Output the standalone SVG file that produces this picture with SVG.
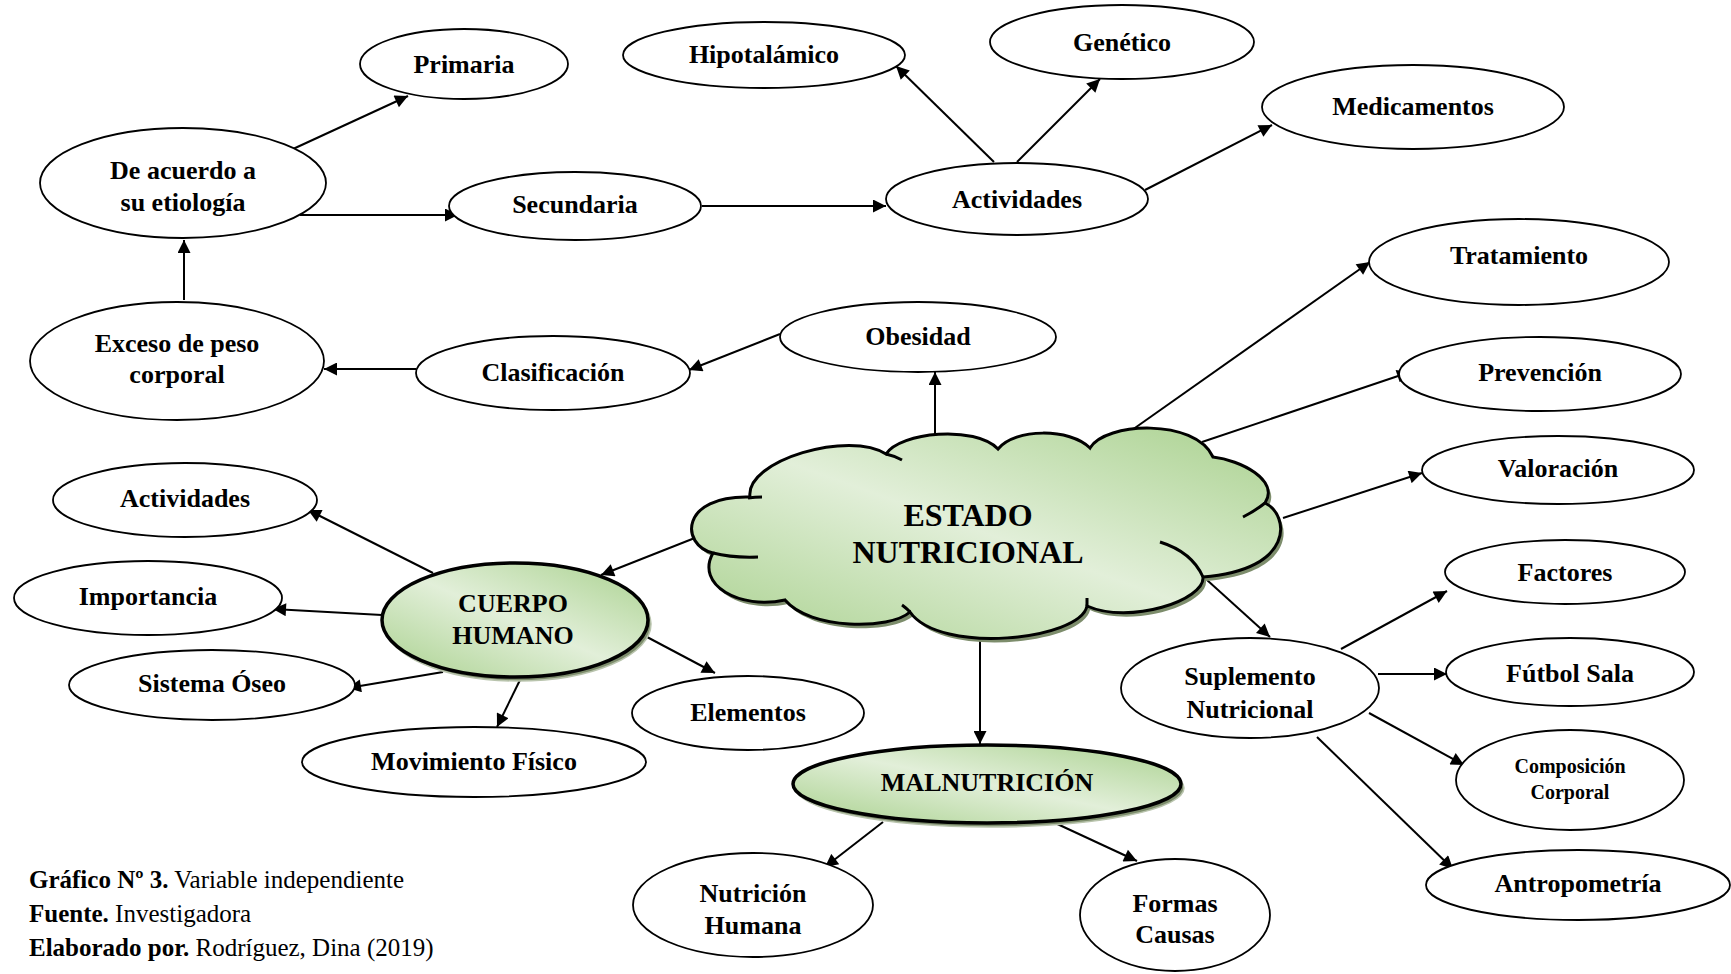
<svg xmlns="http://www.w3.org/2000/svg" xmlns:xlink="http://www.w3.org/1999/xlink" width="1731" height="974" viewBox="0 0 1731 974">
<style>
.n{fill:#fff;stroke:#000;stroke-width:1.8}
.g{stroke:#000;stroke-width:3.5}
.sh{fill:#7d8d6c;stroke:#b9c4ad;stroke-width:1.5}
.t{font-family:"Liberation Serif","Times New Roman",serif;font-weight:bold;font-size:26px;text-anchor:middle;fill:#000}
.c{font-family:"Liberation Serif","Times New Roman",serif;font-size:25px;fill:#000}
.cn path, .cn line{stroke:#000;stroke-width:2;fill:none}
</style>
<defs>
<linearGradient id="gr" x1="1" y1="0" x2="0" y2="1">
<stop offset="0" stop-color="#a9d18e"/>
<stop offset="0.5" stop-color="#e2efd9"/>
<stop offset="1" stop-color="#a9d18e"/>
</linearGradient>
<marker id="ah" viewBox="0 0 10 10" refX="10" refY="5" markerWidth="15" markerHeight="13" markerUnits="userSpaceOnUse" orient="auto">
<path d="M0,0 L10,5 L0,10 z" fill="#000"/>
</marker>
<path id="cloud" d="M750,497 C745,460 850,430 886,454 C900,432 975,425 998,449 C1015,428 1070,428 1090,448 C1105,422 1195,418 1213,457 C1240,460 1280,480 1265,503 C1290,515 1295,570 1203,577 C1205,600 1130,625 1087,606 C1080,640 940,655 910,612 C890,630 810,630 785,600 C740,610 695,585 713,553 C680,545 680,495 750,497 Z"/>
</defs>

<g id="connectors" class="cn">
<line x1="184" y1="300" x2="184" y2="240" marker-end="url(#ah)"/>
<line x1="300" y1="215" x2="458" y2="215" marker-end="url(#ah)"/>
<line x1="293" y1="149" x2="408" y2="96" marker-end="url(#ah)"/>
<line x1="702" y1="206" x2="886" y2="206" marker-end="url(#ah)"/>
<line x1="994" y1="162" x2="896" y2="66" marker-end="url(#ah)"/>
<line x1="1017" y1="162" x2="1100" y2="79" marker-end="url(#ah)"/>
<line x1="1145" y1="190" x2="1272" y2="125" marker-end="url(#ah)"/>
<line x1="416" y1="369" x2="324" y2="369" marker-end="url(#ah)"/>
<line x1="780" y1="334" x2="689" y2="370" marker-end="url(#ah)"/>
<line x1="935" y1="438" x2="935" y2="372" marker-end="url(#ah)"/>
<line x1="1132" y1="430" x2="1370" y2="262" marker-end="url(#ah)"/>
<line x1="1202" y1="442" x2="1410" y2="372" marker-end="url(#ah)"/>
<line x1="1283" y1="518" x2="1422" y2="473" marker-end="url(#ah)"/>
<line x1="1207" y1="580" x2="1270" y2="637" marker-end="url(#ah)"/>
<line x1="1341" y1="649" x2="1447" y2="591" marker-end="url(#ah)"/>
<line x1="1378" y1="674" x2="1447" y2="674" marker-end="url(#ah)"/>
<line x1="1369" y1="713" x2="1464" y2="765" marker-end="url(#ah)"/>
<line x1="1317" y1="737" x2="1453" y2="869" marker-end="url(#ah)"/>
<line x1="980" y1="640" x2="980" y2="744" marker-end="url(#ah)"/>
<line x1="883" y1="822" x2="825" y2="867" marker-end="url(#ah)"/>
<line x1="1053" y1="822" x2="1137" y2="861" marker-end="url(#ah)"/>
<line x1="715" y1="530" x2="601" y2="575" marker-end="url(#ah)"/>
<line x1="433" y1="573" x2="308" y2="510" marker-end="url(#ah)"/>
<line x1="382" y1="615" x2="273" y2="609" marker-end="url(#ah)"/>
<line x1="443" y1="672" x2="348" y2="688" marker-end="url(#ah)"/>
<line x1="520" y1="680" x2="497" y2="727" marker-end="url(#ah)"/>
<line x1="647" y1="637" x2="715" y2="673" marker-end="url(#ah)"/>
</g>

<g id="estado-nutricional">
<use xlink:href="#cloud" transform="translate(3,4)" fill="#7d8d6c"/>
<use xlink:href="#cloud" fill="url(#gr)" stroke="#000" stroke-width="3"/>
<path d="M748,498 Q755,497 762,497 M713,553 Q732,558 758,557 M886,454 Q895,456 902,460 M1265,503 Q1255,511 1243,517 M1160,542 Q1192,552 1203,577 M1087,606 L1087,598 M910,612 Q905,607 902,605" fill="none" stroke="#000" stroke-width="3"/>
<text class="t" x="968" y="526" style="font-size:32px">ESTADO</text>
<text class="t" x="968" y="563" style="font-size:32px">NUTRICIONAL</text>
</g>

<g id="cuerpo-humano">
<ellipse class="sh" cx="518" cy="624" rx="133" ry="57"/>
<ellipse class="g" cx="515" cy="620" rx="133" ry="57" fill="url(#gr)"/>
<text class="t" x="513" y="612">CUERPO</text>
<text class="t" x="513" y="644">HUMANO</text>
</g>

<g id="malnutricion">
<ellipse class="sh" cx="990" cy="788" rx="194" ry="39"/>
<ellipse class="g" cx="987" cy="784" rx="194" ry="39" fill="url(#gr)"/>
<text class="t" x="987" y="791">MALNUTRICIÓN</text>
</g>

<g id="primaria"><ellipse class="n" cx="464" cy="64" rx="104" ry="35"/><text class="t" x="464" y="73">Primaria</text></g>
<g id="hipotalamico"><ellipse class="n" cx="764" cy="55" rx="141" ry="33"/><text class="t" x="764" y="63">Hipotalámico</text></g>
<g id="genetico"><ellipse class="n" cx="1122" cy="42" rx="132" ry="37"/><text class="t" x="1122" y="51">Genético</text></g>
<g id="medicamentos"><ellipse class="n" cx="1413" cy="107" rx="151" ry="42"/><text class="t" x="1413" y="115">Medicamentos</text></g>
<g id="de-acuerdo"><ellipse class="n" cx="183" cy="183" rx="143" ry="55"/><text class="t" x="183" y="179">De acuerdo a</text><text class="t" x="183" y="211">su etiología</text></g>
<g id="secundaria"><ellipse class="n" cx="575" cy="206" rx="126" ry="34"/><text class="t" x="575" y="213">Secundaria</text></g>
<g id="actividades-top"><ellipse class="n" cx="1017" cy="199" rx="131" ry="36"/><text class="t" x="1017" y="208">Actividades</text></g>
<g id="exceso"><ellipse class="n" cx="177" cy="361" rx="147" ry="59"/><text class="t" x="177" y="352">Exceso de peso</text><text class="t" x="177" y="383">corporal</text></g>
<g id="clasificacion"><ellipse class="n" cx="553" cy="373" rx="137" ry="37"/><text class="t" x="553" y="381">Clasificación</text></g>
<g id="obesidad"><ellipse class="n" cx="918" cy="337" rx="138" ry="35"/><text class="t" x="918" y="345">Obesidad</text></g>
<g id="tratamiento"><ellipse class="n" cx="1519" cy="262" rx="150" ry="43"/><text class="t" x="1519" y="264">Tratamiento</text></g>
<g id="prevencion"><ellipse class="n" cx="1540" cy="374" rx="141" ry="37"/><text class="t" x="1540" y="381">Prevención</text></g>
<g id="valoracion"><ellipse class="n" cx="1558" cy="470" rx="136" ry="34"/><text class="t" x="1558" y="477">Valoración</text></g>
<g id="factores"><ellipse class="n" cx="1565" cy="572" rx="120" ry="32"/><text class="t" x="1565" y="581">Factores</text></g>
<g id="suplemento"><ellipse class="n" cx="1250" cy="688" rx="129" ry="50"/><text class="t" x="1250" y="685">Suplemento</text><text class="t" x="1250" y="718">Nutricional</text></g>
<g id="futbol-sala"><ellipse class="n" cx="1570" cy="672" rx="124" ry="34"/><text class="t" x="1570" y="682">Fútbol Sala</text></g>
<g id="composicion"><ellipse class="n" cx="1570" cy="780" rx="114" ry="50"/><text class="t" x="1570" y="773" style="font-size:20px">Composición</text><text class="t" x="1570" y="799" style="font-size:20px">Corporal</text></g>
<g id="antropometria"><ellipse class="n" cx="1578" cy="885" rx="152" ry="35"/><text class="t" x="1578" y="892">Antropometría</text></g>
<g id="actividades-left"><ellipse class="n" cx="185" cy="500" rx="132" ry="37"/><text class="t" x="185" y="507">Actividades</text></g>
<g id="importancia"><ellipse class="n" cx="148" cy="598" rx="134" ry="37"/><text class="t" x="148" y="605">Importancia</text></g>
<g id="sistema-oseo"><ellipse class="n" cx="212" cy="685" rx="143" ry="35"/><text class="t" x="212" y="692">Sistema Óseo</text></g>
<g id="movimiento-fisico"><ellipse class="n" cx="474" cy="762" rx="172" ry="35"/><text class="t" x="474" y="770">Movimiento Físico</text></g>
<g id="elementos"><ellipse class="n" cx="748" cy="713" rx="116" ry="37"/><text class="t" x="748" y="721">Elementos</text></g>
<g id="nutricion-humana"><ellipse class="n" cx="753" cy="905" rx="120" ry="52"/><text class="t" x="753" y="902">Nutrición</text><text class="t" x="753" y="934">Humana</text></g>
<g id="formas-causas"><ellipse class="n" cx="1175" cy="915" rx="95" ry="56"/><text class="t" x="1175" y="912">Formas</text><text class="t" x="1175" y="943">Causas</text></g>

<g id="caption">
<text class="c" x="29" y="888"><tspan font-weight="bold">Gráfico Nº 3.</tspan> Variable independiente</text>
<text class="c" x="29" y="922"><tspan font-weight="bold">Fuente.</tspan> Investigadora</text>
<text class="c" x="29" y="956"><tspan font-weight="bold">Elaborado por.</tspan> Rodríguez, Dina (2019)</text>
</g>
</svg>
